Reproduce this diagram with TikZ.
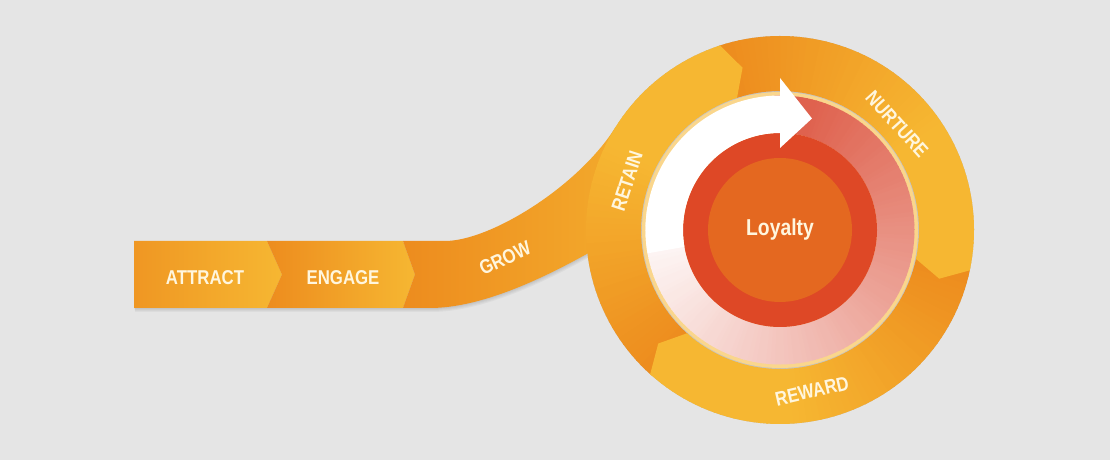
\documentclass[tikz,border=0pt]{standalone}
\usepackage{fontspec}
\newfontfamily\condfont{Liberation Sans}[FakeStretch=0.84]
\definecolor{bggray}{RGB}{229,229,229}
\definecolor{ringdark}{RGB}{237,140,30}
\definecolor{ringlight}{RGB}{246,183,50}
\definecolor{salmon}{RGB}{223,98,78}
\definecolor{creamline}{RGB}{250,214,140}
\definecolor{loyaltyred}{RGB}{222,72,38}
\definecolor{loyaltyorange}{RGB}{228,104,32}
\definecolor{labelcream}{RGB}{255,246,222}
\tikzset{
  steplabel/.style={text=labelcream, inner sep=0pt,
    font=\condfont\bfseries\fontsize{20}{20}\selectfont},
}

\begin{document}
\begin{tikzpicture}[x=1pt,y=1pt]
\useasboundingbox (0,0) rectangle (1110,460);
\fill[bggray] (0,0) rectangle (1110,460);
\coordinate (C) at (780,230);

% soft shadow under band and circle
\foreach \s in {1,...,4}
  \fill[black,opacity=0.035,shift={({0.3*\s},{-\s})}]
    (134,152) -- (430,152) .. controls (480,152) and (540,180) .. (587.4,206.4) -- (C)
    -- (615.5,332.8) .. controls (578,273) and (490,219) .. (445,219) -- (134,219) -- cycle
    (C) circle (194);

% straight band
\shade[left color=ringdark!75!ringlight, right color=ringlight]
  (134,152) -- (267,152) -- (282,185.5) -- (267,219) -- (134,219) -- cycle;
\shade[left color=ringdark, right color=ringlight]
  (267,152) -- (403,152) -- (415,185.5) -- (403,219) -- (267,219) -- (282,185.5) -- cycle;
\shade[left color=ringdark, right color=ringlight!75!ringdark]
  (403,152) -- (430,152) .. controls (480,152) and (540,180) .. (587.4,206.4) -- (640,260)
  -- (615.5,332.8) .. controls (578,273) and (490,219) .. (445,219) -- (403,219) -- (415,185.5) -- cycle;

\begin{scope}[shift={(C)}]
% outer ring, three segments
\foreach \a in {0,2,...,358}{
  \pgfmathtruncatemacro\p{min(100,mod(466.8-\a,120)*1.35)}
  \fill[ringlight!\p!ringdark] (\a:139) arc[start angle=\a, end angle=\a+2.4, radius=139]
    -- ({\a+2.4}:194) arc[start angle=\a+2.4, end angle=\a, radius=194] -- cycle;
}
\foreach \b in {108,-12,228}
  \fill[ringlight] (\b:139) -- ({\b-5}:166.5) -- (\b:194) -- ({\b+1}:194) -- ({\b+1}:139) -- cycle;

% inner rings
\fill[creamline] (0,0) circle (138);
\foreach \a in {-190,-188,...,90}{
  \pgfmathtruncatemacro\p{min(100,(\a+190)/2.64)}
  \fill[salmon!\p!white] (\a:97) arc[start angle=\a, end angle=\a+2.4, radius=97]
    -- ({\a+2.4}:134.5) arc[start angle=\a+2.4, end angle=\a, radius=134.5] -- cycle;
}
\fill[loyaltyred] (0,0) circle (97);
\fill[loyaltyorange] (0,0) circle (72);

% white arrow
\fill[white] (190:97) arc[start angle=190, end angle=90, radius=97] -- (90:82) -- (74:116)
  -- (90:152) -- (90:134.5) arc[start angle=90, end angle=190, radius=134.5] -- cycle;
\end{scope}

% labels
\node[steplabel] (attract) at (205,182.5) {ATTRACT};
\node[steplabel] (engage) at (343,182.5) {ENGAGE};
\node[steplabel, rotate=25] (grow) at (505,202) {GROW};
\node[steplabel, rotate=72] (retain) at (627,279) {RETAIN};
\node[steplabel, rotate=-48] (nurture) at (897,336) {NURTURE};
\node[steplabel, rotate=13] (reward) at (812,69) {REWARD};
\node[steplabel, font=\condfont\bfseries\fontsize{23}{23}\selectfont] (loyalty) at (C) {Loyalty};
\end{tikzpicture}
\end{document}
